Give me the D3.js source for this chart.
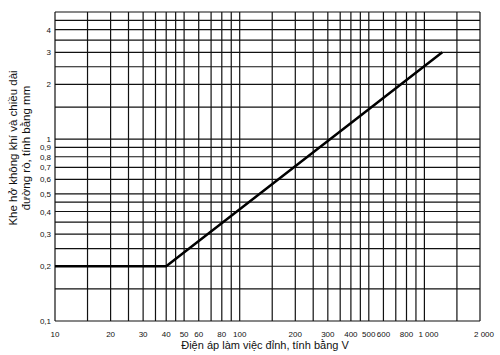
<!DOCTYPE html>
<html>
<head>
<meta charset="utf-8">
<script src="https://cdn.jsdelivr.net/npm/d3@7"></script>
<style>
  body { margin: 0; background: #fff; }
  text { font-family: "Liberation Sans", Arial, sans-serif; fill: #111; }
</style>
</head>
<body>
<div id="chart"></div>
<script>
// ─── Data ───
const xGrid = [10, 15, 20, 25, 30, 35, 40, 45, 50, 60, 70, 80, 90, 100,
               150, 200, 250, 300, 350, 400, 450, 500, 600, 700, 800, 900, 1000, 1500, 2000];
const yGrid = [0.1, 0.15, 0.2, 0.25, 0.3, 0.35, 0.4, 0.45, 0.5, 0.6, 0.7, 0.8, 0.9,
               1, 1.5, 2, 2.5, 3, 3.5, 4, 4.5, 5];
const xTicks = [10, 20, 30, 40, 50, 60, 80, 100, 200, 300, 400, 500, 600, 800, 1000, 2000];
const xTickLabels = ["10", "20", "30", "40", "50", "60", "80", "100", "200", "300", "400",
                     "500", "600", "800", "1 000", "2 000"];
const yTicks = [0.1, 0.2, 0.3, 0.4, 0.5, 0.6, 0.7, 0.8, 0.9, 1, 2, 3, 4];
const yTickLabels = ["0,1", "0,2", "0,3", "0,4", "0,5", "0,6", "0,7", "0,8", "0,9", "1", "2", "3", "4"];
const curveV  = [10, 40, 1250];
const curveMm = [0.2, 0.2, 3];

const width = 500, height = 355;
const svg = d3.select("#chart").append("svg")
  .attr("width", width).attr("height", height);

const x = d3.scaleLog().domain([10, 2000]).range([55, 480]);
const y = d3.scaleLog().domain([0.1, 5]).range([321, 12]);

// ─── Grid ───
svg.append("g").selectAll("line").data(xGrid).enter().append("line")
  .attr("x1", d => x(d)).attr("x2", d => x(d))
  .attr("y1", y(0.1)).attr("y2", y(5))
  .attr("stroke", "#111").attr("stroke-width", 1.2);

svg.append("g").selectAll("line").data(yGrid).enter().append("line")
  .attr("x1", x(10)).attr("x2", x(2000))
  .attr("y1", d => y(d)).attr("y2", d => y(d))
  .attr("stroke", "#111").attr("stroke-width", 1.2);

// ─── Tick labels ───
svg.append("g").selectAll("text").data(xTicks).enter().append("text")
  .attr("x", d => x(d) + (d >= 1000 ? 4 : 0)).attr("y", 337)
  .attr("text-anchor", "middle")
  .attr("font-size", 8)
  .text((d, i) => xTickLabels[i]);

svg.append("g").selectAll("text").data(yTicks).enter().append("text")
  .attr("x", 51).attr("y", d => y(d) + 3)
  .attr("text-anchor", "end")
  .attr("font-size", 8)
  .text((d, i) => yTickLabels[i]);

// ─── Curve ───
const pts = curveV.map((v, i) => [v, curveMm[i]]);
svg.append("path")
  .datum(pts)
  .attr("d", d3.line().x(d => x(d[0])).y(d => y(d[1])))
  .attr("fill", "none")
  .attr("stroke", "#000")
  .attr("stroke-width", 2.5);

// ─── Axis titles ───
svg.append("text")
  .attr("x", 265).attr("y", 349)
  .attr("text-anchor", "middle")
  .attr("font-size", 11)
  .text("Điện áp làm việc đỉnh, tính bằng V");

const yt = svg.append("text")
  .attr("transform", "translate(17,148) rotate(-90)")
  .attr("text-anchor", "middle")
  .attr("font-size", 11.5);
yt.append("tspan").attr("x", 0).attr("dy", 0).text("Khe hở không khí và chiều dài");
yt.append("tspan").attr("x", 0).attr("dy", 13).text("đường rò, tính bằng mm");
</script>
</body>
</html>
